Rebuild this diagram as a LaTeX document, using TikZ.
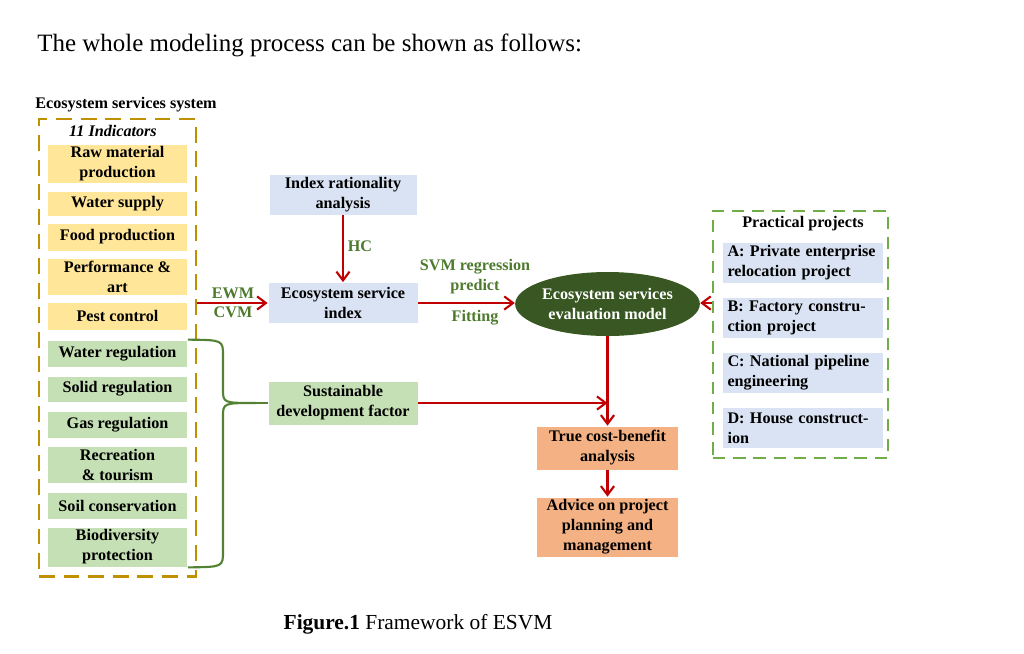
\documentclass[tikz,border=0pt]{standalone}
\usepackage{fontspec}
\setmainfont{Liberation Serif}
\usetikzlibrary{arrows.meta,shapes.geometric}
\usepackage{xcolor}
\definecolor{goldc}{HTML}{BF9000}
\definecolor{dashgc}{HTML}{70AD47}
\definecolor{bracec}{HTML}{548235}
\definecolor{yelc}{HTML}{FFE699}
\definecolor{grnc}{HTML}{C5E0B4}
\definecolor{bluc}{HTML}{DAE3F3}
\definecolor{orac}{HTML}{F4B183}
\definecolor{darkgc}{HTML}{385723}
\definecolor{labc}{HTML}{4E7A2E}
\definecolor{arrc}{HTML}{C00000}

\begin{document}
\begin{tikzpicture}[x=0.02cm,y=-0.02cm,
    txt/.style={font=\fontsize{9.2}{11.4}\selectfont\bfseries},
    box/.style={txt, draw=white, line width=0.4pt, inner sep=0pt, align=center},
    lab/.style={txt, text=labc, inner sep=0pt, align=center},
    arr/.style={draw=arrc, line width=1.2pt, -{Straight Barb[length=5pt,width=7.5pt]}}]
  \useasboundingbox (0,0) rectangle (1024,653);
  \fill[white] (0,0) rectangle (1024,653);

  % ==========================================================
  %                     PARAMETERS
  % ==========================================================
  \def\pxu{0.02cm}          % one pixel of the reference
  \def\indW{140}            % width of the indicator boxes (px)
  \def\indX{117.5}          % centre x of the indicator column (px)

  % ==========================================================
  %                     TEXTS
  % ==========================================================
  \node[anchor=west, inner sep=0pt, font=\fontsize{14.2}{16}\selectfont] (title) at (37,45)
    {The whole modeling process can be shown as follows:};
  \node[txt, anchor=west, inner sep=0pt] (systitle) at (35,105) {Ecosystem services system};
  \node[inner sep=0pt, font=\fontsize{12.2}{14}\selectfont] (caption) at (418,624)
    {\textbf{Figure.1} Framework of ESVM};

  % ==========================================================
  %                     ECOSYSTEM SERVICES SYSTEM (gold)
  % ==========================================================
  \node[draw=goldc, line width=1.7pt, dash pattern=on 9pt off 5pt,
        minimum width=157*\pxu, minimum height=457*\pxu, inner sep=0pt] (sysbox) at (117.5,347.5) {};
  \node[txt, font=\fontsize{9.2}{11.4}\selectfont\bfseries\itshape, inner sep=0pt] (indic) at (113,131) {11 Indicators};

  \foreach \nme/\yc/\hh/\lbl in {raw/163.5/39/{Raw material\\production},
                                 water/203.5/25/{Water supply},
                                 food/237/28/{Food production},
                                 perf/276.5/37/{Performance \&\\art},
                                 pest/316/28/{Pest control}}
    \node[box, fill=yelc, minimum width=\indW*\pxu, minimum height=\hh*\pxu] (\nme) at (\indX,\yc) {\lbl};

  \foreach \nme/\yc/\hh/\lbl in {wreg/353.5/27/{Water regulation},
                                 sreg/389/26/{Solid regulation},
                                 greg/424.5/27/{Gas regulation},
                                 recr/464.5/37/{Recreation\\\& tourism},
                                 soil/505.5/27/{Soil conservation},
                                 bio/547/40/{Biodiversity\\protection}}
    \node[box, fill=grnc, minimum width=\indW*\pxu, minimum height=\hh*\pxu] (\nme) at (\indX,\yc) {\lbl};

  % brace over the regulating services
  \coordinate (bracetip) at (256,403);
  \draw[bracec, line width=1.2pt]
    (wreg.north east) .. controls (223,340) .. (223,356) -- (223,389)
    .. controls (223,403) .. (bracetip)
    .. controls (223,403) .. (223,417) -- (223,551)
    .. controls (223,567) .. (bio.south east);

  % ==========================================================
  %                     MIDDLE COLUMN
  % ==========================================================
  \node[box, fill=bluc, minimum width=148*\pxu, minimum height=41*\pxu] (ira) at (343,194.5) {Index rationality\\analysis};
  \node[box, fill=bluc, minimum width=150*\pxu, minimum height=41*\pxu] (esi) at (343,303) {Ecosystem service\\index};
  \node[box, fill=grnc, minimum width=150*\pxu, minimum height=44*\pxu] (sdf) at (343,403) {Sustainable\\development factor};
  \draw[bracec, line width=1.2pt] (bracetip) -- (sdf.west);

  \node[lab] (hc) at (360,246) {HC};
  \node[lab] (ewm) at (233,293) {EWM};
  \node[lab] (cvm) at (233,312) {CVM};
  \node[lab] (svm) at (475,276.5) {SVM regression\\predict};
  \node[lab] (fit) at (475,318) {Fitting};

  % ==========================================================
  %                     MODEL AND RESULTS
  % ==========================================================
  \node[ellipse, fill=darkgc, text=white, txt, align=center, inner sep=0pt,
        minimum width=170*\pxu, minimum height=64*\pxu] (esem) at (607.5,304) {Ecosystem services\\evaluation model};
  \node[box, fill=orac, minimum width=142*\pxu, minimum height=44*\pxu] (tcb) at (607.5,448) {True cost-benefit\\analysis};
  \node[box, fill=orac, minimum width=142*\pxu, minimum height=60*\pxu] (advice) at (607.5,527) {Advice on project\\planning and\\management};

  % ==========================================================
  %                     PRACTICAL PROJECTS (green dashed)
  % ==========================================================
  \node[draw=dashgc, line width=1.4pt, dash pattern=on 7pt off 4.5pt,
        minimum width=175*\pxu, minimum height=247*\pxu, inner sep=0pt] (projbox) at (800.5,334.5) {};
  \node[txt, inner sep=0pt] (projtitle) at (803,224) {Practical projects};
  \foreach \nme/\yc/\lbl in {prA/263/{A: Private enterprise\\relocation project},
                             prB/317.5/{B: Factory constru-\\ction project},
                             prC/372.5/{C: National pipeline\\engineering},
                             prD/428/{D: House construct-\\ion}}
    \node[box, fill=bluc, align=left, text width=150*\pxu, inner xsep=5.5*\pxu,
          minimum height=41*\pxu] (\nme) at (802.5,\yc) {\lbl};

  % ==========================================================
  %                     ARROWS
  % ==========================================================
  \draw[arr] (ira) -- (esi);
  \draw[arr] (sysbox.east |- esi) -- (esi);
  \draw[arr] (esi) -- (esi -| esem.west);
  \draw[arr] (projbox.west |- esi) -- (esi -| esem.east);
  \draw[arr] (esem.south) -- (tcb.north);
  \draw[arr] (sdf.east) -- (sdf.east -| esem.south);
  \draw[arr] (tcb) -- (advice);

\end{tikzpicture}
\end{document}
